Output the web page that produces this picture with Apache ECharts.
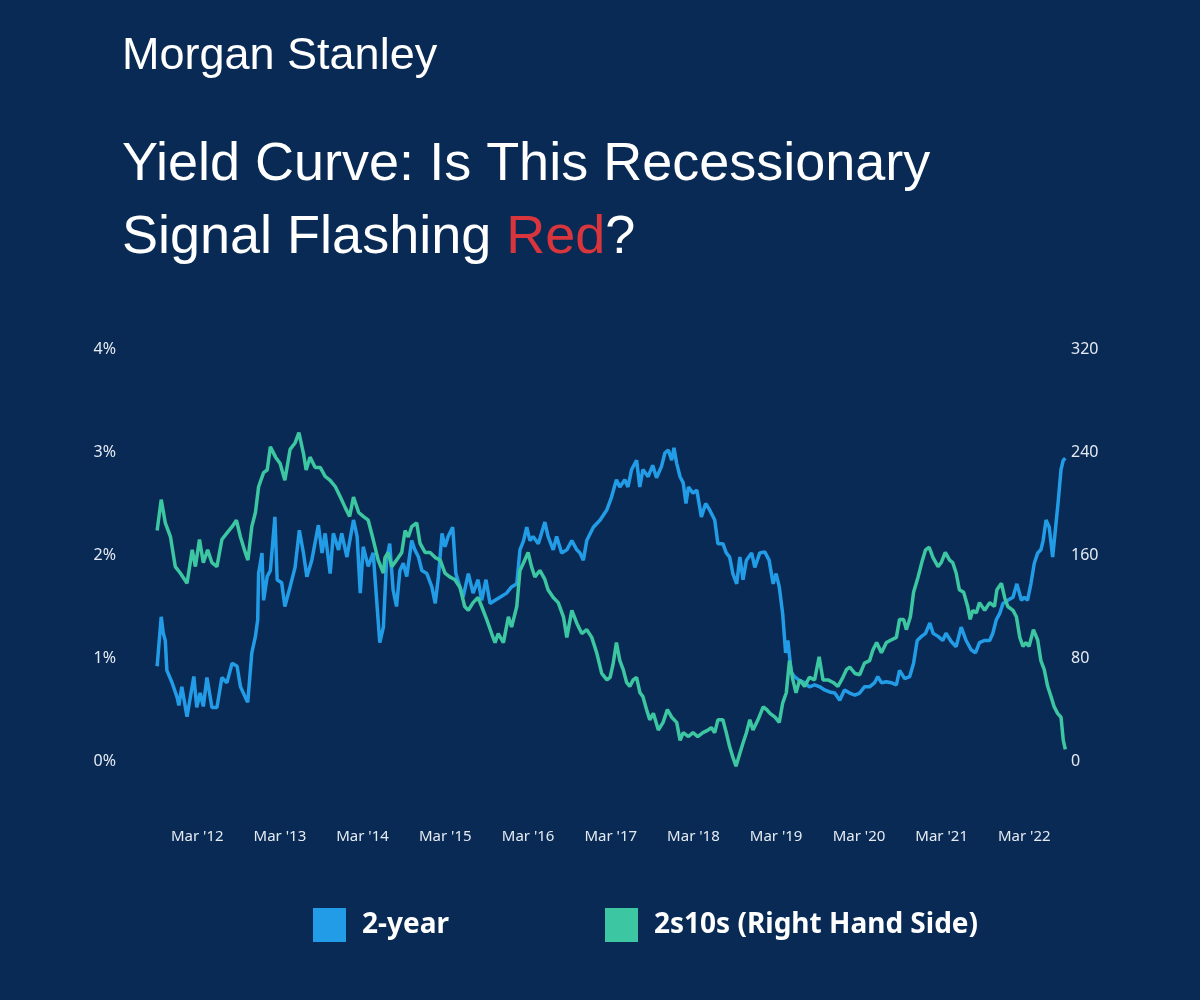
<!DOCTYPE html>
<html>
<head>
<meta charset="utf-8">
<title>Yield Curve</title>
<script src="https://cdn.jsdelivr.net/npm/echarts@6/dist/echarts.min.js"></script>
<style>
  html, body { margin: 0; padding: 0; background: #082a54; }
  #chart { width: 1200px; height: 1000px; }
</style>
</head>
<body>
<div id="chart"></div>
<script>
// tick labels
const marchTicks = ['2012-03-01', '2013-03-01', '2014-03-01', '2015-03-01', '2016-03-01', '2017-03-01',
  '2018-03-01', '2019-03-01', '2020-03-01', '2021-03-01', '2022-03-01'];
const leftTicks = [0, 1, 2, 3, 4];
const rightTicks = [0, 80, 160, 240, 320];

// 2-year yield, %
const twoYear = [
  ['2011-09-06', 0.92], ['2011-09-24', 1.40], ['2011-10-03', 1.24], ['2011-10-12', 1.17], ['2011-10-19', 0.88],
  ['2011-11-11', 0.76], ['2011-12-03', 0.62], ['2011-12-11', 0.54], ['2011-12-24', 0.72], ['2012-01-16', 0.43],
  ['2012-02-15', 0.82], ['2012-02-28', 0.52], ['2012-03-14', 0.66], ['2012-03-28', 0.53], ['2012-04-13', 0.81],
  ['2012-05-05', 0.52], ['2012-05-27', 0.52], ['2012-06-18', 0.81], ['2012-07-10', 0.76], ['2012-08-02', 0.95],
  ['2012-08-24', 0.92], ['2012-09-08', 0.72], ['2012-09-29', 0.62], ['2012-10-10', 0.57], ['2012-10-28', 1.05],
  ['2012-11-13', 1.21], ['2012-11-23', 1.37], ['2012-11-27', 1.82], ['2012-12-12', 2.02], ['2012-12-19', 1.56],
  ['2013-01-04', 1.79], ['2013-01-18', 1.85], ['2013-02-07', 2.37], ['2013-02-17', 1.76], ['2013-03-09', 1.73],
  ['2013-03-23', 1.50], ['2013-04-15', 1.69], ['2013-05-07', 1.88], ['2013-05-26', 2.24], ['2013-06-13', 2.02],
  ['2013-06-28', 1.79], ['2013-07-20', 1.95], ['2013-08-18', 2.29], ['2013-09-03', 2.02], ['2013-09-17', 2.21],
  ['2013-10-09', 1.82], ['2013-10-23', 2.21], ['2013-11-15', 2.05], ['2013-11-29', 2.21], ['2013-12-22', 1.98],
  ['2014-01-20', 2.34], ['2014-02-05', 2.18], ['2014-02-19', 1.63], ['2014-03-04', 2.08], ['2014-03-26', 1.89],
  ['2014-04-17', 2.02], ['2014-05-16', 1.15], ['2014-06-01', 1.30], ['2014-06-15', 1.95], ['2014-06-29', 2.11],
  ['2014-07-14', 1.66], ['2014-07-29', 1.50], ['2014-08-13', 1.85], ['2014-08-28', 1.92], ['2014-09-12', 1.79],
  ['2014-10-04', 2.14], ['2014-10-18', 2.05], ['2014-11-03', 1.98], ['2014-11-18', 1.85], ['2014-12-10', 1.82],
  ['2015-01-01', 1.69], ['2015-01-16', 1.53], ['2015-01-30', 1.79], ['2015-02-15', 2.21], ['2015-02-28', 2.08],
  ['2015-03-14', 2.18], ['2015-04-03', 2.27], ['2015-04-17', 1.82], ['2015-05-05', 1.69], ['2015-05-19', 1.59],
  ['2015-06-11', 1.82], ['2015-07-02', 1.63], ['2015-07-24', 1.76], ['2015-08-09', 1.56], ['2015-08-28', 1.76],
  ['2015-09-15', 1.53], ['2015-10-07', 1.56], ['2015-10-29', 1.59], ['2015-11-27', 1.63], ['2015-12-19', 1.69],
  ['2016-01-11', 1.72], ['2016-01-25', 2.05], ['2016-02-10', 2.14], ['2016-02-24', 2.27], ['2016-03-09', 2.14],
  ['2016-03-23', 2.18], ['2016-04-15', 2.11], ['2016-04-29', 2.21], ['2016-05-14', 2.32], ['2016-05-28', 2.18],
  ['2016-06-20', 2.05], ['2016-07-05', 2.18], ['2016-07-27', 2.02], ['2016-08-19', 2.05], ['2016-09-10', 2.14],
  ['2016-10-02', 2.05], ['2016-10-16', 2.02], ['2016-10-31', 1.95], ['2016-11-15', 2.14], ['2016-12-14', 2.27],
  ['2017-01-13', 2.34], ['2017-02-12', 2.44], ['2017-03-04', 2.56], ['2017-03-26', 2.73], ['2017-04-10', 2.66],
  ['2017-05-02', 2.73], ['2017-05-16', 2.66], ['2017-06-01', 2.83], ['2017-06-23', 2.92], ['2017-07-07', 2.66],
  ['2017-07-21', 2.83], ['2017-08-13', 2.76], ['2017-09-02', 2.87], ['2017-09-19', 2.75], ['2017-10-11', 2.86],
  ['2017-10-26', 2.99], ['2017-11-10', 3.02], ['2017-11-25', 2.92], ['2017-12-05', 3.04], ['2017-12-17', 2.89],
  ['2018-01-01', 2.76], ['2018-01-15', 2.70], ['2018-01-27', 2.50], ['2018-02-07', 2.66], ['2018-02-27', 2.60],
  ['2018-03-16', 2.63], ['2018-04-05', 2.37], ['2018-04-24', 2.50], ['2018-05-11', 2.44], ['2018-06-03', 2.34],
  ['2018-06-17', 2.11], ['2018-07-09', 2.11], ['2018-07-24', 2.02], ['2018-08-08', 1.98], ['2018-08-22', 1.82],
  ['2018-09-08', 1.72], ['2018-09-22', 1.98], ['2018-10-06', 1.76], ['2018-10-21', 1.95], ['2018-11-13', 2.02],
  ['2018-11-27', 1.88], ['2018-12-19', 2.02], ['2019-01-10', 2.03], ['2019-01-29', 1.95], ['2019-02-16', 1.72],
  ['2019-03-01', 1.82], ['2019-03-15', 1.69], ['2019-03-30', 1.43], ['2019-04-12', 1.05], ['2019-04-22', 1.17],
  ['2019-05-07', 0.86], ['2019-05-21', 0.82], ['2019-06-13', 0.78], ['2019-07-05', 0.76], ['2019-07-26', 0.72],
  ['2019-08-18', 0.74], ['2019-09-10', 0.72], ['2019-10-01', 0.69], ['2019-10-23', 0.67], ['2019-11-15', 0.66],
  ['2019-12-07', 0.59], ['2019-12-28', 0.69], ['2020-01-20', 0.66], ['2020-02-12', 0.64], ['2020-03-04', 0.66],
  ['2020-03-25', 0.72], ['2020-04-17', 0.72], ['2020-05-09', 0.76], ['2020-05-23', 0.82], ['2020-06-08', 0.76],
  ['2020-06-30', 0.77], ['2020-07-21', 0.76], ['2020-08-13', 0.74], ['2020-08-27', 0.88], ['2020-09-19', 0.80],
  ['2020-10-11', 0.82], ['2020-10-28', 0.95], ['2020-11-13', 1.17], ['2020-12-02', 1.21], ['2020-12-20', 1.24],
  ['2021-01-08', 1.34], ['2021-01-22', 1.24], ['2021-02-13', 1.21], ['2021-03-06', 1.17], ['2021-03-20', 1.24],
  ['2021-04-12', 1.16], ['2021-05-04', 1.11], ['2021-05-26', 1.30], ['2021-06-17', 1.17], ['2021-07-09', 1.08],
  ['2021-07-28', 1.05], ['2021-08-15', 1.15], ['2021-09-07', 1.17], ['2021-09-29', 1.17], ['2021-10-13', 1.24],
  ['2021-10-28', 1.37], ['2021-11-12', 1.43], ['2021-11-27', 1.53], ['2021-12-18', 1.56], ['2022-01-10', 1.59],
  ['2022-01-27', 1.72], ['2022-02-16', 1.56], ['2022-03-01', 1.59], ['2022-03-15', 1.56], ['2022-03-30', 1.72],
  ['2022-04-14', 1.92], ['2022-04-29', 2.02], ['2022-05-13', 2.05], ['2022-05-23', 2.14], ['2022-06-05', 2.34],
  ['2022-06-19', 2.27], ['2022-07-04', 1.98], ['2022-07-16', 2.24], ['2022-07-29', 2.53], ['2022-08-10', 2.83],
  ['2022-08-20', 2.92], ['2022-08-29', 2.94]
];

// 2s10s spread, bp (right hand side)
const twoTen = [
  ['2011-09-06', 179], ['2011-09-24', 203], ['2011-10-12', 185], ['2011-11-04', 174], ['2011-11-25', 151],
  ['2011-12-17', 146], ['2012-01-16', 138], ['2012-02-08', 164], ['2012-02-22', 151], ['2012-03-11', 172],
  ['2012-03-28', 154], ['2012-04-16', 164], ['2012-05-05', 154], ['2012-05-27', 151], ['2012-06-18', 172],
  ['2012-07-10', 177], ['2012-08-02', 182], ['2012-08-21', 187], ['2012-09-08', 174], ['2012-09-29', 162],
  ['2012-10-11', 156], ['2012-10-28', 182], ['2012-11-13', 193], ['2012-11-27', 213], ['2012-12-19', 224],
  ['2013-01-04', 226], ['2013-01-18', 244], ['2013-02-10', 236], ['2013-03-02', 231], ['2013-03-23', 218],
  ['2013-04-15', 242], ['2013-05-07', 247], ['2013-05-24', 255], ['2013-06-13', 239], ['2013-06-25', 226],
  ['2013-07-12', 236], ['2013-08-04', 228], ['2013-08-26', 228], ['2013-09-17', 221], ['2013-10-09', 218],
  ['2013-11-01', 213], ['2013-11-23', 205], ['2013-12-14', 197], ['2014-01-03', 190], ['2014-01-20', 205],
  ['2014-02-12', 193], ['2014-03-04', 190], ['2014-03-26', 187], ['2014-04-17', 172], ['2014-05-09', 156],
  ['2014-06-01', 146], ['2014-06-08', 158], ['2014-06-22', 162], ['2014-07-08', 151], ['2014-07-29', 156],
  ['2014-08-21', 162], ['2014-09-05', 179], ['2014-09-19', 174], ['2014-10-04', 182], ['2014-10-26', 185],
  ['2014-11-10', 169], ['2014-12-02', 162], ['2014-12-24', 162], ['2015-01-16', 158], ['2015-02-07', 156],
  ['2015-02-28', 146], ['2015-03-21', 143], ['2015-04-12', 141], ['2015-05-05', 135], ['2015-05-26', 120],
  ['2015-06-11', 117], ['2015-07-02', 123], ['2015-07-24', 127], ['2015-08-09', 120], ['2015-08-31', 110],
  ['2015-09-22', 99], ['2015-10-07', 92], ['2015-10-21', 99], ['2015-11-13', 92], ['2015-12-05', 112],
  ['2015-12-19', 104], ['2016-01-11', 120], ['2016-01-25', 148], ['2016-02-10', 154], ['2016-03-01', 162],
  ['2016-03-16', 151], ['2016-03-31', 143], ['2016-04-22', 148], ['2016-05-14', 141], ['2016-05-28', 133],
  ['2016-06-20', 127], ['2016-07-12', 123], ['2016-08-04', 112], ['2016-08-19', 96], ['2016-09-10', 117],
  ['2016-10-02', 107], ['2016-10-24', 99], ['2016-11-15', 102], ['2016-12-07', 96], ['2016-12-29', 84],
  ['2017-01-20', 68], ['2017-02-12', 63], ['2017-02-26', 65], ['2017-03-11', 75], ['2017-03-26', 92],
  ['2017-04-10', 78], ['2017-04-25', 71], ['2017-05-10', 61], ['2017-05-24', 58], ['2017-06-08', 63],
  ['2017-06-23', 65], ['2017-07-08', 53], ['2017-07-21', 50], ['2017-08-06', 40], ['2017-08-20', 32],
  ['2017-09-05', 37], ['2017-09-27', 24], ['2017-10-18', 30], ['2017-11-06', 40], ['2017-11-25', 34],
  ['2017-12-17', 30], ['2018-01-01', 16], ['2018-01-15', 22], ['2018-02-07', 19], ['2018-02-27', 22],
  ['2018-03-20', 19], ['2018-04-12', 22], ['2018-05-04', 24], ['2018-05-19', 26], ['2018-06-03', 22],
  ['2018-06-17', 32], ['2018-07-09', 32], ['2018-07-24', 22], ['2018-08-08', 11], ['2018-08-22', 3],
  ['2018-09-05', -4], ['2018-09-22', 6], ['2018-10-06', 14], ['2018-10-21', 22], ['2018-11-05', 32],
  ['2018-11-19', 24], ['2018-12-11', 32], ['2019-01-03', 42], ['2019-01-18', 40], ['2019-02-02', 37],
  ['2019-02-24', 34], ['2019-03-15', 30], ['2019-03-30', 45], ['2019-04-15', 53], ['2019-04-29', 78],
  ['2019-05-14', 63], ['2019-05-28', 53], ['2019-06-13', 63], ['2019-07-05', 58], ['2019-07-26', 65],
  ['2019-08-18', 63], ['2019-09-07', 81], ['2019-09-24', 63], ['2019-10-16', 63], ['2019-11-08', 61],
  ['2019-11-29', 58], ['2019-12-21', 65], ['2020-01-06', 71], ['2020-01-20', 73], ['2020-02-12', 68],
  ['2020-03-04', 67], ['2020-03-25', 76], ['2020-04-17', 78], ['2020-05-01', 86], ['2020-05-18', 92],
  ['2020-06-08', 84], ['2020-06-30', 92], ['2020-07-21', 94], ['2020-08-13', 96], ['2020-08-27', 110],
  ['2020-09-14', 110], ['2020-09-26', 102], ['2020-10-14', 112], ['2020-10-28', 131], ['2020-11-17', 143],
  ['2020-12-06', 156], ['2020-12-20', 164], ['2021-01-05', 166], ['2021-01-22', 158], ['2021-02-13', 151],
  ['2021-02-27', 154], ['2021-03-17', 162], ['2021-04-05', 156], ['2021-04-19', 154], ['2021-05-04', 146],
  ['2021-05-18', 133], ['2021-06-06', 131], ['2021-06-24', 120], ['2021-07-05', 110], ['2021-07-16', 117],
  ['2021-08-01', 115], ['2021-08-15', 123], ['2021-09-07', 117], ['2021-09-29', 123], ['2021-10-20', 120],
  ['2021-10-31', 133], ['2021-11-20', 138], ['2021-12-04', 127], ['2021-12-18', 120], ['2022-01-10', 117],
  ['2022-01-25', 112], ['2022-02-09', 96], ['2022-02-23', 89], ['2022-03-08', 92], ['2022-03-22', 89],
  ['2022-04-10', 102], ['2022-04-29', 94], ['2022-05-13', 78], ['2022-05-28', 71], ['2022-06-12', 58],
  ['2022-06-27', 50], ['2022-07-11', 42], ['2022-07-26', 37], ['2022-08-10', 34], ['2022-08-20', 16],
  ['2022-08-29', 9]
];

const BG = '#082a54';
const BLUE = '#229ce6';
const GREEN = '#3cc6a2';
const LABEL = '#e6ebf3';

// dates -> timestamps for a plain value axis (custom March ticks)
function ts(d) {
  return Date.UTC(+d.slice(0, 4), +d.slice(5, 7) - 1, +d.slice(8, 10));
}
function toXY(rows) {
  return rows.map(function (r) { return [ts(r[0]), r[1]]; });
}

var myChart = echarts.init(document.getElementById('chart'), null, { renderer: 'canvas' });

var option = {
  backgroundColor: BG,
  animation: false,
  title: [
    {
      text: 'Morgan Stanley',
      left: 117,
      top: 29,
      textStyle: {
        color: '#ffffff',
        fontFamily: 'Liberation Sans',
        fontWeight: 'normal',
        fontSize: 45,
      },
    },
    {
      text: 'Yield Curve: Is This Recessionary\nSignal Flashing {red|Red}?',
      left: 117,
      top: 124,
      textStyle: {
        color: '#ffffff',
        fontFamily: 'Liberation Sans',
        fontWeight: 'normal',
        fontSize: 54,
        lineHeight: 73,
        rich: {
          red: {
            color: '#d9353d',
            fontFamily: 'Liberation Sans',
            fontSize: 54,
            lineHeight: 73,
          },
        },
      },
    },
  ],
  legend: [
    {
      data: ['2-year'],
      left: 313,
      top: 908,
      padding: 0,
      icon: 'rect',
      itemWidth: 33,
      itemHeight: 34,
      textStyle: {
        color: '#ffffff',
        fontFamily: 'Noto Sans',
        fontWeight: 'bold',
        fontSize: 28,
        padding: [3, 0, 0, 11],
      },
    },
    {
      data: ['2s10s (Right Hand Side)'],
      left: 605,
      top: 908,
      padding: 0,
      icon: 'rect',
      itemWidth: 33,
      itemHeight: 34,
      textStyle: {
        color: '#ffffff',
        fontFamily: 'Noto Sans',
        fontWeight: 'bold',
        fontSize: 28,
        padding: [3, 0, 0, 11],
      },
    },
  ],
  grid: {
    left: 156,
    right: 134,
    top: 349,
    bottom: 239,
  },
  xAxis: {
    type: 'value',
    min: ts('2011-09-01'),
    max: ts('2022-09-01'),
    splitLine: { show: false },
    axisLine: { show: false },
    axisTick: { show: false },
    axisLabel: {
      customValues: marchTicks.map(ts),
      margin: 68,
      color: LABEL,
      fontFamily: 'Noto Sans',
      fontSize: 15,
      formatter: function (val) {
        var d = new Date(val);
        return "Mar '" + String(d.getUTCFullYear()).slice(2);
      },
    },
  },
  yAxis: [
    {
      type: 'value',
      min: leftTicks[0],
      max: leftTicks[leftTicks.length - 1],
      interval: 1,
      splitLine: { show: false },
      axisLine: { show: false },
      axisTick: { show: false },
      axisLabel: {
        margin: 40,
        color: LABEL,
        fontFamily: 'Noto Sans',
        fontSize: 16,
        formatter: '{value}%',
      },
    },
    {
      type: 'value',
      min: rightTicks[0],
      max: rightTicks[rightTicks.length - 1],
      interval: 80,
      splitLine: { show: false },
      axisLine: { show: false },
      axisTick: { show: false },
      axisLabel: {
        margin: 5,
        color: LABEL,
        fontFamily: 'Noto Sans',
        fontSize: 16,
      },
    },
  ],
  series: [
    {
      name: '2-year',
      type: 'line',
      yAxisIndex: 0,
      showSymbol: false,
      clip: false,
      color: BLUE,
      lineStyle: { width: 3.5, color: BLUE },
      data: toXY(twoYear),
    },
    {
      name: '2s10s (Right Hand Side)',
      type: 'line',
      yAxisIndex: 1,
      showSymbol: false,
      clip: false,
      color: GREEN,
      lineStyle: { width: 3.5, color: GREEN },
      data: toXY(twoTen),
    },
  ],
};

myChart.setOption(option);
</script>
</body>
</html>
